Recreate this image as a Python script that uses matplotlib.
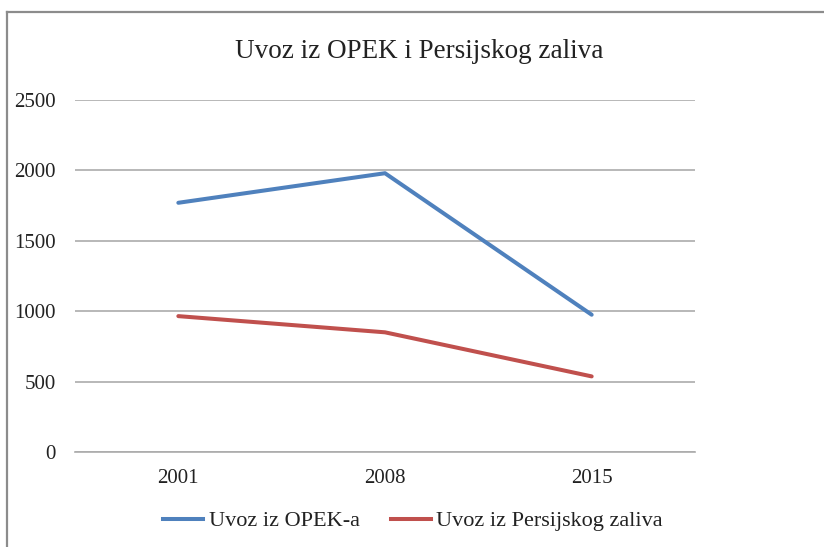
import matplotlib
matplotlib.use("Agg")
import matplotlib.pyplot as plt
from matplotlib.lines import Line2D

categories = ["2001", "2008", "2015"]
opek = [1770, 1980, 975]
perzijski = [965, 850, 537]
series_names = ["Uvoz iz OPEK-a", "Uvoz iz Persijskog zaliva"]
yticks = [0, 500, 1000, 1500, 2000, 2500]

plt.rcParams['font.family'] = ['Liberation Serif', 'DejaVu Serif']

W, H = 824, 547
fig = plt.figure(figsize=(W/100, H/100), dpi=100)
ax = fig.add_axes([75/W, 1-452/H, 620/W, (452-100)/H])

x = list(range(len(categories)))
ax.plot(x, opek, color="#4F81BD", lw=2.9, solid_capstyle="round", label=series_names[0])
ax.plot(x, perzijski, color="#C0504D", lw=2.9, solid_capstyle="round", label=series_names[1])

ax.set_xlim(-0.5, len(categories)-0.5)
ax.set_ylim(0, 2500)
ax.set_yticks(yticks)
ax.set_yticklabels([str(v) for v in yticks])
ax.set_xticks(x)
ax.set_xticklabels(categories)
ax.tick_params(axis='both', length=0, labelsize=15, colors="#222222")
ax.tick_params(axis='y', pad=14)
ax.tick_params(axis='x', pad=12)
ax.grid(axis='y', color="#ABABAB", lw=1.2)
ax.set_axisbelow(True)
for s in ["top", "right", "left"]:
    ax.spines[s].set_visible(False)
ax.spines["bottom"].set_color("#ABABAB")
ax.spines["bottom"].set_linewidth(1.2)

fig.text(419/W, 1-52/H, "Uvoz iz OPEK i Persijskog zaliva", ha="center", va="center",
         fontsize=19.5, color="#222222")

handles = [Line2D([], [], color="#4F81BD", lw=2.9),
           Line2D([], [], color="#C0504D", lw=2.9)]
fig.legend(handles, series_names, loc="center", bbox_to_anchor=(413/W, 1-521/H),
           ncol=2, frameon=False, fontsize=16, handlelength=1.8, handletextpad=0.25,
           columnspacing=1.4, labelcolor="#222222", borderpad=0)

# outer frame (top and left edges visible)
fig.add_artist(Line2D([7/W, 1.0], [1-12/H, 1-12/H], color="#8C8C8C", lw=1.6, transform=fig.transFigure))
fig.add_artist(Line2D([7/W, 7/W], [0, 1-12/H], color="#8C8C8C", lw=1.6, transform=fig.transFigure))

fig.savefig("out.png", dpi=100)
